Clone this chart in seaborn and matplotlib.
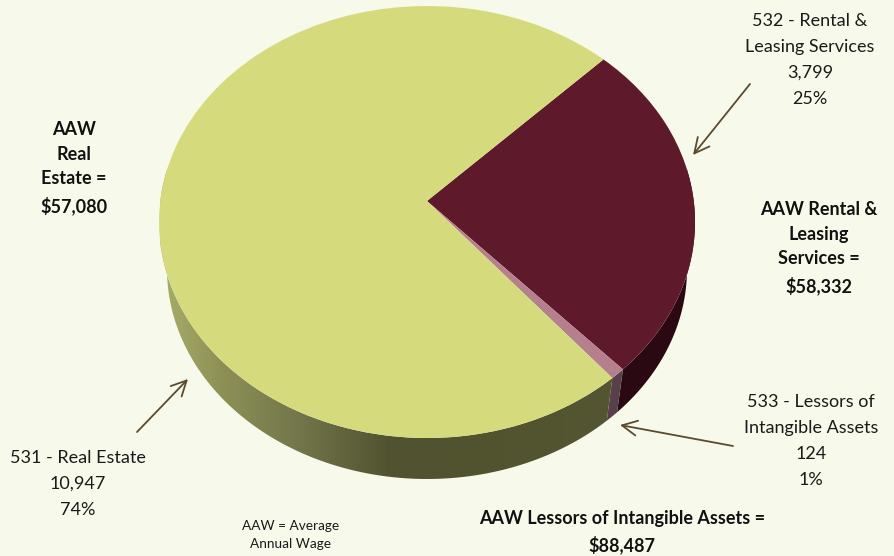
import numpy as np
import matplotlib
matplotlib.use('Agg')
import matplotlib.pyplot as plt
from matplotlib.colors import LinearSegmentedColormap
from matplotlib.patches import Polygon
from matplotlib.transforms import Transform
import seaborn as sns

# employees per subsector
segments = ['532 - Rental & Leasing Services', '533 - Lessors of Intangible Assets', '531 - Real Estate']
employees = [3799, 124, 10947]
top_colors = ['#5E1A2B', '#B57F8E', '#D5DB7C']
wall_colors = ['#2A0912', '#57404A', '#53562F']

labels = ['532 - Rental &\nLeasing Services\n3,799\n25%',
          '533 - Lessors of\nIntangible Assets\n124\n1%',
          '531 - Real Estate\n10,947\n74%']
wages = ['AAW\nReal\nEstate =\n$57,080',
         'AAW Rental &\nLeasing\nServices =\n$58,332',
         'AAW Lessors of Intangible Assets =\n$88,487']

BG = '#F7FAEB'
START = 45
TILT = 0.0972


def project(x, y, cx, cy, rx, ry):
    # tilt the unit circle so the apex sits above the ellipse centre
    k = 1 + TILT * y
    xp = np.sqrt(1 - TILT ** 2) * x / k
    yp = (y + TILT) / k
    return cx + rx * xp, cy - ry * yp


class PieTilt(Transform):
    input_dims = 2
    output_dims = 2

    def transform_non_affine(self, values):
        values = np.asarray(values)
        px, py = project(values[:, 0], values[:, 1], 427, 222, 268, 216)
        return np.column_stack([px, py])


sns.set_theme(style='white')
plt.rcParams['font.family'] = ['Lato', 'DejaVu Sans']

fig = plt.figure(figsize=(8.95, 5.56), dpi=100, facecolor=BG)
ax = fig.add_axes([0, 0, 1, 1])

# side wall first, the big slice gets a gradient
shade = LinearSegmentedColormap.from_list('wall', [(0, '#A9AD6A'), (0.13, '#8D9157'), (0.3, '#73764A'),
                                                   (0.5, '#515230'), (1, '#53562F')])
fracs = np.array(employees) / sum(employees)
edges = START - 360 * np.cumsum(np.r_[0, fracs])
for i in range(3):
    t = np.radians(np.linspace(edges[i], edges[i + 1], 200))
    t = t[np.sin(t) < 0.15]
    x1, y1 = project(np.cos(t), np.sin(t), 427, 222, 268, 216)
    x2, y2 = project(np.cos(t), np.sin(t), 427, 269, 260, 210)
    xy = np.column_stack([np.r_[x1, x2[::-1]], np.r_[y1, y2[::-1]]])
    wall = Polygon(xy, closed=True, color=wall_colors[i], lw=0)
    ax.add_patch(wall)
    if i == 2:
        ramp = np.linspace(0, 1, 256).reshape(1, -1)
        img = ax.imshow(ramp, cmap=shade, extent=(160, 620, 556, 0), aspect='auto', zorder=1)
        wall.set_facecolor('none')
        img.set_clip_path(wall)

wedges, _ = ax.pie(employees, colors=sns.color_palette(top_colors), startangle=START, counterclock=False)
tilt = PieTilt()
for w in wedges:
    w.set_transform(tilt + ax.transData)
    w.set_linewidth(0)
    w.set_zorder(2)

ax.set_aspect('auto')
ax.set_xlim(0, 895)
ax.set_ylim(556, 0)
ax.axis('off')

# callouts
arrow = dict(arrowstyle='->,head_length=0.9,head_width=0.45', color='#5B4A30', lw=1.3, shrinkA=0, shrinkB=0)
ax.annotate('', xy=(693, 155), xytext=(750, 84), arrowprops=arrow)
ax.annotate('', xy=(620, 425), xytext=(733, 446), arrowprops=arrow)
ax.annotate('', xy=(188, 379), xytext=(137, 432), arrowprops=arrow)

txt = dict(ha='center', va='center', color='#1A1A1A', fontsize=13, linespacing=1.78)
bold = dict(ha='center', va='center', color='#111111', fontsize=13, fontweight='bold', linespacing=1.55)
ax.text(810, 60, labels[0], **txt)
ax.text(811, 441, labels[1], **txt)
ax.text(78, 484, labels[2], **txt)
ax.text(74, 168, wages[0], **bold)
ax.text(819, 248, wages[1], **bold)
ax.text(622, 532, wages[2], **bold)
ax.text(291, 535, 'AAW = Average\nAnnual Wage', ha='center', va='center', color='#1A1A1A', fontsize=9.8, linespacing=1.62)

fig.savefig('out.png', dpi=100, facecolor=BG)
